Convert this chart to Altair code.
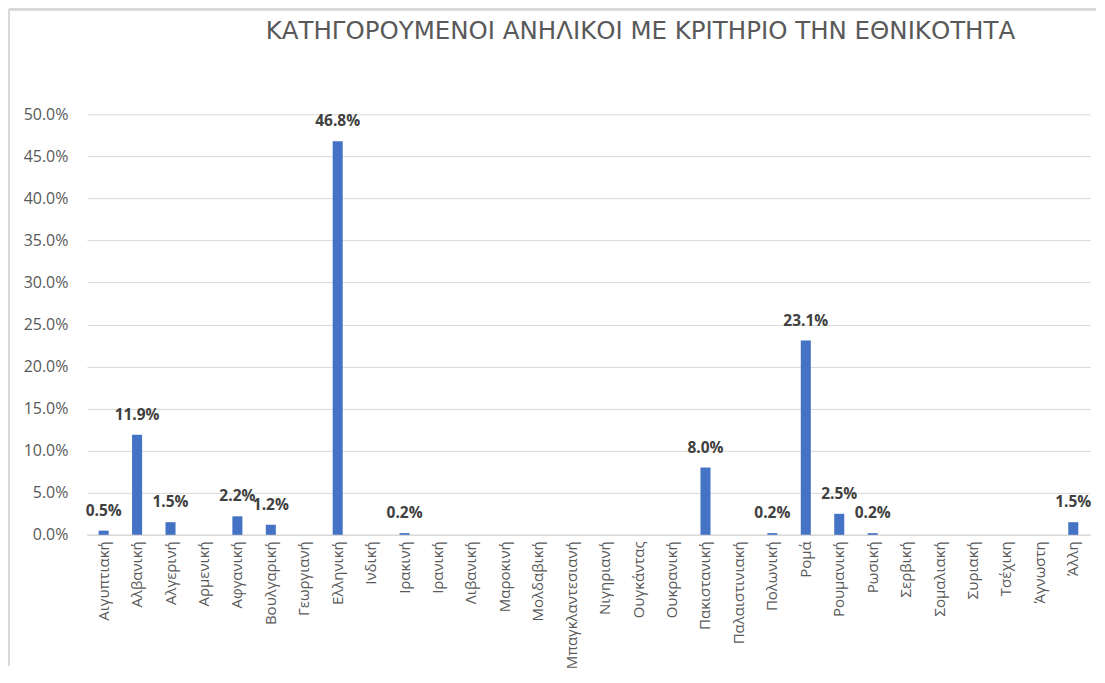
import altair as alt
import pandas as pd

categories = ["Αιγυπτιακή", "Αλβανική", "Αλγερινή", "Αρμενική", "Αφγανική", "Βουλγαρική",
              "Γεωργιανή", "Ελληνική", "Ινδική", "Ιρακινή", "Ιρανική", "Λιβανική", "Μαροκινή",
              "Μολδαβική", "Μπαγκλαντεσιανή", "Νιγηριανή", "Ουγκάντας", "Ουκρανική",
              "Πακιστανική", "Παλαιστινιακή", "Πολωνική", "Ρομά", "Ρουμανική", "Ρωσική",
              "Σερβική", "Σομαλιακή", "Συριακή", "Τσέχικη", "Άγνωστη", "Άλλη"]
values = [0.005, 0.119, 0.015, 0.0, 0.022, 0.012, 0.0, 0.468, 0.0, 0.002, 0.0, 0.0, 0.0,
          0.0, 0.0, 0.0, 0.0, 0.0, 0.080, 0.0, 0.002, 0.231, 0.025, 0.002, 0.0, 0.0, 0.0,
          0.0, 0.0, 0.015]
y_ticks = [0.0, 0.05, 0.10, 0.15, 0.20, 0.25, 0.30, 0.35, 0.40, 0.45, 0.50]
title_text = "ΚΑΤΗΓΟΡΟΥΜΕΝΟΙ ΑΝΗΛΙΚΟΙ ΜΕ ΚΡΙΤΗΡΙΟ ΤΗΝ ΕΘΝΙΚΟΤΗΤΑ"

df = pd.DataFrame({"cat": categories, "val": values})
df["label"] = df["val"].map(lambda v: f"{v*100:.1f}%" if v > 0 else "")

FONT = "Open Sans"

x = alt.X("cat:N", sort=categories, title=None,
          scale=alt.Scale(paddingInner=0.7, paddingOuter=0.35),
          axis=alt.Axis(labelAngle=-90, labelFontSize=15, labelColor="#595959",
                        labelFont=FONT, ticks=False, domainColor="#d9d9d9",
                        domainWidth=1.5, labelPadding=6, labelBaseline="middle",
                        labelAlign="right", labelLimit=200))
y = alt.Y("val:Q", title=None,
          scale=alt.Scale(domain=[0, 0.5], nice=False),
          axis=alt.Axis(values=y_ticks, format=".1%", labelFontSize=16,
                        labelColor="#595959", labelFont=FONT, ticks=False,
                        domain=False, gridColor="#d9d9d9", labelPadding=19))

bars = alt.Chart(df).mark_bar(color="#4472C4").encode(x=x, y=y)
text = alt.Chart(df).mark_text(dy=-20, fontWeight="bold", fontSize=15.5,
                               color="#404040", font=FONT).encode(
    x=alt.X("cat:N", sort=categories), y="val:Q", text="label:N")

title_df = pd.DataFrame({"t": [title_text]})
title = alt.Chart(title_df).mark_text(fontSize=24.5, font="DejaVu Sans", color="#595959",
                                      align="center", baseline="middle").encode(
    x=alt.value(554), y=alt.value(-82), text="t:N")

border_top = alt.Chart(df).mark_rule(color="#d9d9d9", strokeWidth=2).encode(
    x=alt.value(-78), x2=alt.value(1010), y=alt.value(-105))
border_left = alt.Chart(df).mark_rule(color="#d9d9d9", strokeWidth=2).encode(
    x=alt.value(-78), y=alt.value(-105), y2=alt.value(552))

chart = alt.layer(bars, text, title, border_top, border_left).properties(
    width=1004, height=421,
    padding={"left": 0, "top": 0, "right": 0, "bottom": 0},
).configure(background="white").configure_view(stroke=None)

chart.save("out.html", embed_options={"renderer": "svg", "actions": False})
